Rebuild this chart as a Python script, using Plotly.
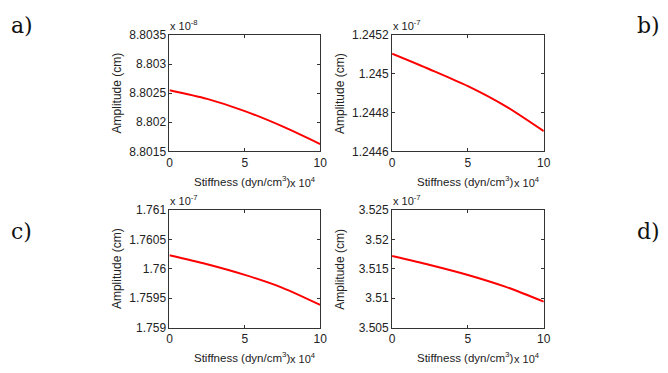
import plotly.graph_objects as go

W, H = 668, 373

# Stiffness in units of 1e4 dyn/cm^3
stiffness = [0, 2.5, 5, 7.5, 10]

# Amplitudes in units of the axis multiplier
amp_a = [8.802550, 8.802401, 8.802192, 8.801929, 8.801626]   # x 1e-8 cm
amp_b = [1.245103, 1.245022, 1.244936, 1.244832, 1.244704]   # x 1e-7 cm
amp_c = [1.760231, 1.760077, 1.759896, 1.759676, 1.759385]   # x 1e-7 cm
amp_d = [3.517198, 3.515659, 3.513956, 3.511923, 3.509396]   # x 1e-7 cm

yticks_a = [8.8015, 8.802, 8.8025, 8.803, 8.8035]
yticks_b = [1.2446, 1.2448, 1.245, 1.2452]
yticks_c = [1.759, 1.7595, 1.76, 1.7605, 1.761]
yticks_d = [3.505, 3.51, 3.515, 3.52, 3.525]
xticks = [0, 5, 10]

exp_a, exp_b, exp_c, exp_d = "-8", "-7", "-7", "-7"
panel_labels = ["a)", "b)", "c)", "d)"]


def px(x):
    return x / W


def py(y):
    return 1 - y / H


FONT = "Liberation Sans, Arial, sans-serif"
TXT = "#222222"
AX = "#333333"

# pixel boxes: (left, right, top, bottom)
boxes = [(169, 322, 29, 150), (395, 549, 29, 150),
         (169, 322, 211, 333), (395, 549, 211, 333)]
datasets = [amp_a, amp_b, amp_c, amp_d]
ytickset = [yticks_a, yticks_b, yticks_c, yticks_d]
exps = [exp_a, exp_b, exp_c, exp_d]

fig = go.Figure()
annotations = []
layout = {}
for i, (box, ys, yt, ex) in enumerate(zip(boxes, datasets, ytickset, exps)):
    n = "" if i == 0 else str(i + 1)
    l, r, t, b = box
    fig.add_trace(go.Scatter(x=stiffness, y=ys, mode="lines",
                             line=dict(color="#ff0000", width=2, shape="spline", smoothing=0.8),
                             xaxis="x" + n, yaxis="y" + n, showlegend=False))
    common = dict(showline=True, linecolor=AX, linewidth=1, mirror="ticks",
                  ticks="inside", ticklen=3, tickcolor=AX, showgrid=False,
                  zeroline=False, tickfont=dict(family=FONT, size=12, color=TXT))
    layout["xaxis" + n] = dict(domain=[px(l), px(r)], range=[0, 10],
                               tickvals=xticks, ticktext=[str(v) for v in xticks],
                               anchor="y" + n, **common)
    layout["yaxis" + n] = dict(domain=[py(b), py(t)], range=[yt[0], yt[-1]],
                               tickvals=yt, ticktext=[("%g" % v) for v in yt],
                               anchor="x" + n, **common)
    # y axis title
    annotations.append(dict(x=px(l - 53), y=py((t + b) / 2), xref="paper", yref="paper",
                            text="Amplitude (cm)", textangle=-90, showarrow=False,
                            font=dict(family=FONT, size=12, color=TXT),
                            xanchor="center", yanchor="middle"))
    # x axis title
    annotations.append(dict(x=px(r - 29), y=py(b + 31), xref="paper", yref="paper",
                            text="Stiffness (dyn/cm<sup>3</sup>)", showarrow=False,
                            font=dict(family=FONT, size=11.5, color=TXT),
                            xanchor="right", yanchor="middle"))
    annotations.append(dict(x=px(r - 2), y=py(b + 32), xref="paper", yref="paper",
                            text="x 10<sup>4</sup>", showarrow=False,
                            font=dict(family=FONT, size=11, color=TXT),
                            xanchor="right", yanchor="middle"))
    # y multiplier
    annotations.append(dict(x=px(l - 1), y=py(t - 10), xref="paper", yref="paper",
                            text="x 10<sup>%s</sup>" % ex, showarrow=False,
                            font=dict(family=FONT, size=11, color=TXT),
                            xanchor="left", yanchor="middle"))

label_pos = [(19, 19), (655, 19), (19, 233), (655, 233)]
for lab, (x, y) in zip(panel_labels, label_pos):
    annotations.append(dict(x=px(x), y=py(y), xref="paper", yref="paper", text=lab,
                            showarrow=False, xanchor="center", yanchor="middle",
                            font=dict(family="DejaVu Serif, serif", size=22, color="#111111")))

fig.update_layout(width=W, height=H, margin=dict(l=0, r=0, t=0, b=0),
                  paper_bgcolor="white", plot_bgcolor="white",
                  annotations=annotations, **layout)

fig.write_html("out.html")
